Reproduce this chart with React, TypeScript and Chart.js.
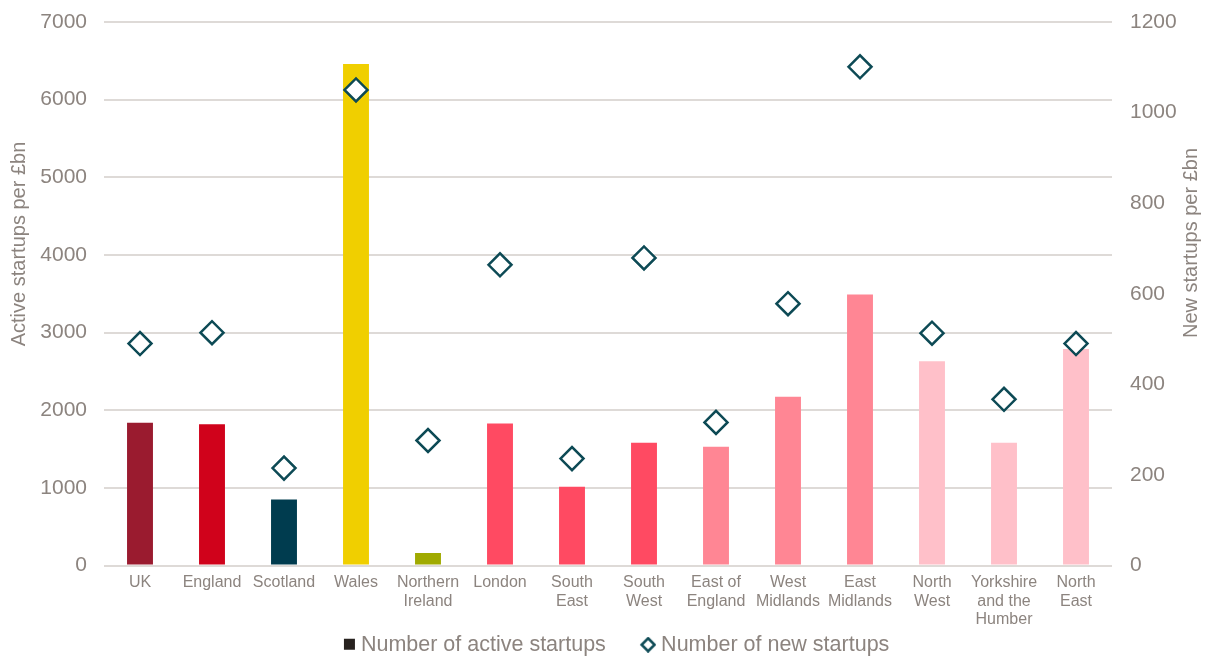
import React, { useEffect, useRef } from "react";
import { Chart, registerables } from "chart.js";

Chart.register(...registerables);

const categories: (string | string[])[] = [
  "UK",
  "England",
  "Scotland",
  "Wales",
  ["Northern", "Ireland"],
  "London",
  ["South", "East"],
  ["South", "West"],
  ["East of", "England"],
  ["West", "Midlands"],
  ["East", "Midlands"],
  ["North", "West"],
  ["Yorkshire", "and the", "Humber"],
  ["North", "East"],
];

const activeStartups = [1840, 1820, 850, 6460, 160, 1830, 1015, 1580, 1530, 2175, 3490, 2630, 1580, 2790];
const newStartups = [490, 514, 215, 1050, 276, 664, 236, 679, 316, 578, 1101, 513, 367, 490];

const barColors = [
  "#9A1B2F",
  "#D0021B",
  "#003C4F",
  "#F0CF00",
  "#A0AA00",
  "#FF4A62",
  "#FF4A62",
  "#FF4A62",
  "#FF8694",
  "#FF8694",
  "#FF8694",
  "#FFC0C9",
  "#FFC0C9",
  "#FFC0C9",
];

const leftTicks = [0, 1000, 2000, 3000, 4000, 5000, 6000, 7000];
const rightTicks = [0, 200, 400, 600, 800, 1000, 1200];

const seriesNames = ["Number of active startups", "Number of new startups"];
const axisTitles = ["Active startups per £bn", "New startups per £bn"];

const TEXT = "#8C847F";
const GRID = "#DEDAD7";
const TEAL = "#0D4A55";
const FONT = "'Liberation Sans', Arial, sans-serif";

const BOX_W = 14.5;
const IMG_W = 26;

function makeSquare(): HTMLCanvasElement {
  const c = document.createElement("canvas");
  c.width = IMG_W;
  c.height = 14;
  const ctx = c.getContext("2d")!;
  ctx.fillStyle = "#27221F";
  ctx.fillRect(IMG_W - 12, 1, 11, 11);
  return c;
}

function makeDiamond(): HTMLCanvasElement {
  const c = document.createElement("canvas");
  c.width = IMG_W;
  c.height = 16;
  const ctx = c.getContext("2d")!;
  const cx = IMG_W - 8;
  ctx.beginPath();
  ctx.moveTo(cx, 1.5);
  ctx.lineTo(cx + 6.5, 8);
  ctx.lineTo(cx, 14.5);
  ctx.lineTo(cx - 6.5, 8);
  ctx.closePath();
  ctx.fillStyle = "#fff";
  ctx.fill();
  ctx.lineWidth = 2.5;
  ctx.strokeStyle = TEAL;
  ctx.stroke();
  return c;
}

const titlePlugin = {
  id: "sideTitles",
  afterDraw(chart: any) {
    const ctx = chart.ctx as CanvasRenderingContext2D;
    ctx.save();
    ctx.font = `20px ${FONT}`;
    ctx.fillStyle = TEXT;
    ctx.textAlign = "center";
    ctx.textBaseline = "middle";
    const drawRot = (text: string, x: number, y: number) => {
      ctx.save();
      ctx.translate(x, y);
      ctx.rotate(-Math.PI / 2);
      ctx.fillText(text, 0, 0);
      ctx.restore();
    };
    drawRot(axisTitles[0], 19, 244);
    drawRot(axisTitles[1], 1191, 243);
    ctx.restore();
  },
};

export default function App() {
  const canvasRef = useRef<HTMLCanvasElement | null>(null);

  useEffect(() => {
    if (!canvasRef.current) return;
    const square = makeSquare();
    const diamond = makeDiamond();
    const chart = new Chart(canvasRef.current, {
      type: "bar",
      data: {
        labels: categories as any,
        datasets: [
          {
            type: "line",
            label: seriesNames[1],
            data: newStartups,
            yAxisID: "y1",
            showLine: false,
            pointStyle: "rectRot",
            pointRadius: 11.5,
            pointHoverRadius: 11.5,
            pointBackgroundColor: "#FFFFFF",
            pointBorderColor: TEAL,
            pointBorderWidth: 2.5,
            order: 0,
          } as any,
          {
            type: "bar",
            label: seriesNames[0],
            data: activeStartups,
            yAxisID: "y",
            backgroundColor: barColors,
            barPercentage: 0.36,
            categoryPercentage: 1,
            order: 1,
          },
        ],
      },
      options: {
        animation: false,
        responsive: true,
        maintainAspectRatio: false,
        layout: { padding: { top: 22, left: 20, right: 0, bottom: -8.5 } },
        plugins: {
          tooltip: { enabled: false },
          legend: {
            position: "bottom",
            labels: {
              usePointStyle: true,
              pointStyleWidth: BOX_W,
              boxWidth: BOX_W,
              boxHeight: 12,
              padding: 30,
              color: TEXT,
              font: { size: 21.5, family: FONT },
              generateLabels: () => [
                {
                  text: seriesNames[0],
                  pointStyle: square,
                  fillStyle: "#27221F",
                  strokeStyle: "#27221F",
                  lineWidth: 0,
                  hidden: false,
                  datasetIndex: 1,
                  fontColor: TEXT,
                } as any,
                {
                  text: seriesNames[1],
                  pointStyle: diamond,
                  fillStyle: "#fff",
                  strokeStyle: TEAL,
                  lineWidth: 0,
                  hidden: false,
                  datasetIndex: 0,
                  fontColor: TEXT,
                } as any,
              ],
            },
          },
        },
        scales: {
          x: {
            grid: { display: false, drawTicks: false },
            border: { display: false },
            ticks: {
              color: TEXT,
              font: { size: 16, family: FONT, lineHeight: 1.15 },
              padding: 8,
              maxRotation: 0,
              autoSkip: false,
            },
            afterFit: (s: any) => {
              s.height = 38.5;
              s.paddingLeft = 0;
              s.paddingRight = 0;
              s._computeLabelArea = () => undefined;
            },
          },
          y: {
            position: "left",
            min: 0,
            max: 7000,
            afterBuildTicks: (s: any) => {
              s.ticks = leftTicks.map((v) => ({ value: v }));
            },
            grid: { color: GRID, lineWidth: 2, drawTicks: false },
            border: { display: false },
            ticks: {
              color: TEXT,
              font: { size: 21, family: FONT },
              padding: 17,
              callback: (v: any) => String(v),
            },
            afterFit: (s: any) => {
              s.width = 84;
              s.paddingTop = 0;
              s.paddingBottom = 0;
            },
          },
          y1: {
            position: "right",
            min: 0,
            max: 1200,
            afterBuildTicks: (s: any) => {
              s.ticks = rightTicks.map((v) => ({ value: v }));
            },
            grid: { display: false, drawTicks: false },
            border: { display: false },
            ticks: {
              color: TEXT,
              font: { size: 21, family: FONT },
              padding: 18,
              callback: (v: any) => String(v),
            },
            afterFit: (s: any) => {
              s.width = 93;
              s.paddingTop = 0;
              s.paddingBottom = 0;
            },
          },
        },
      },
      plugins: [titlePlugin],
    });
    return () => chart.destroy();
  }, []);

  return (
    <div style={{ position: "absolute", left: 0, top: 0, width: 1205, height: 657 }}>
      <canvas ref={canvasRef} />
    </div>
  );
}
